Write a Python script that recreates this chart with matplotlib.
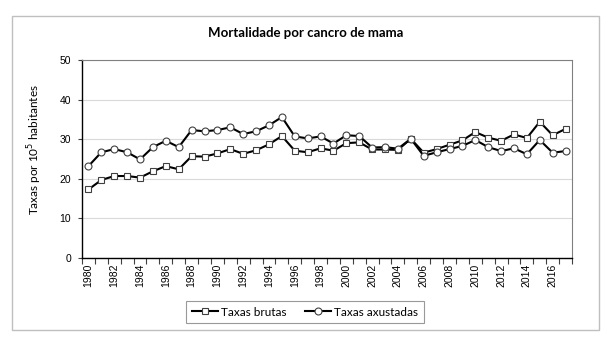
import matplotlib
matplotlib.use("Agg")
import matplotlib.pyplot as plt
from matplotlib.patches import Rectangle
import numpy as np

years = list(range(1980, 2018))
taxas_brutas = [17.3, 19.7, 20.7, 20.7, 20.3, 21.9, 23.2, 22.4, 25.7, 25.6,
                26.4, 27.5, 26.3, 27.2, 28.7, 30.8, 27.1, 26.7, 27.7, 27.1,
                29.0, 29.2, 27.4, 27.4, 27.3, 30.1, 26.6, 27.5, 28.6, 29.7,
                31.8, 30.4, 29.6, 31.2, 30.3, 34.4, 31.0, 32.6]
taxas_axustadas = [23.2, 26.7, 27.5, 26.7, 24.9, 28.0, 29.6, 28.0, 32.3, 32.0,
                   32.3, 33.0, 31.3, 32.0, 33.5, 35.6, 30.7, 30.2, 30.7, 28.9,
                   31.0, 30.8, 27.9, 28.0, 27.6, 30.1, 25.8, 26.7, 27.5, 28.3,
                   29.8, 28.0, 27.0, 27.7, 26.2, 29.8, 26.6, 27.0]
x_labels = [str(y) for y in range(1980, 2018, 2)]
y_ticks = [0, 10, 20, 30, 40, 50]

W, H = 612, 347
fig = plt.figure(figsize=(W / 100, H / 100), dpi=100)
fig.patch.set_facecolor("white")

# outer frame
fig.patches.append(Rectangle((12 / W, 1 - 330 / H), 587 / W, 314 / H,
                             transform=fig.transFigure, fill=False,
                             edgecolor="#bfbfbf", linewidth=1.0))

ax = fig.add_axes([82 / W, 1 - 258 / H, (572 - 82) / W, (258 - 60) / H])

ax.plot(years, taxas_brutas, color="black", linewidth=1.5, marker="s",
        markersize=5, markerfacecolor="white", markeredgecolor="#404040",
        markeredgewidth=0.8, label="Taxas brutas", zorder=3)
ax.plot(years, taxas_axustadas, color="black", linewidth=1.5, marker="o",
        markersize=5, markerfacecolor="white", markeredgecolor="#404040",
        markeredgewidth=0.8, label="Taxas axustadas", zorder=3)

ax.set_xlim(1979.5, 2017.5)
ax.set_ylim(0, 50)
ax.set_yticks(y_ticks)
ax.set_xticks([int(s) for s in x_labels])
ax.set_xticklabels(x_labels, rotation=90, fontsize=7.5,
                   family="Liberation Sans")
ax.set_xticks(np.arange(1979.5, 2018.0, 1.0), minor=True)
ax.tick_params(axis="x", which="major", length=0, pad=4)
ax.tick_params(axis="x", which="minor", length=4, width=0.8, direction="out",
               color="#404040")
ax.tick_params(axis="y", which="major", length=3, width=0.8, direction="out",
               labelsize=7.5, pad=5, color="#404040")
for lbl in ax.get_yticklabels():
    lbl.set_family("Liberation Sans")

ax.yaxis.grid(True, color="#d9d9d9", linewidth=0.8)
ax.set_axisbelow(True)
ax.spines["left"].set_color("black")
ax.spines["bottom"].set_color("black")
ax.spines["left"].set_linewidth(1.0)
ax.spines["bottom"].set_linewidth(1.0)
ax.spines["top"].set_color("#808080")
ax.spines["right"].set_color("#808080")
ax.spines["top"].set_linewidth(0.8)
ax.spines["right"].set_linewidth(0.8)

fig.text(306 / W, 1 - 33 / H, "Mortalidade por cancro de mama",
         ha="center", va="center", fontsize=9.5, fontweight="bold",
         family="Lato")
fig.text(35 / W, 1 - 150 / H, "Taxas por 10$^5$ habitantes", rotation=90,
         ha="center", va="center", fontsize=8.5, family="Lato")

leg = fig.legend(loc="center", bbox_to_anchor=(305 / W, 1 - 312 / H),
                 ncol=2, fontsize=8.5, frameon=True, fancybox=False,
                 edgecolor="#808080", handlelength=2.2, handletextpad=0.3,
                 columnspacing=1.5, borderpad=0.5,
                 prop={"family": "Lato", "size": 8.5})
leg.get_frame().set_linewidth(0.8)

fig.savefig("out.png", dpi=100)
